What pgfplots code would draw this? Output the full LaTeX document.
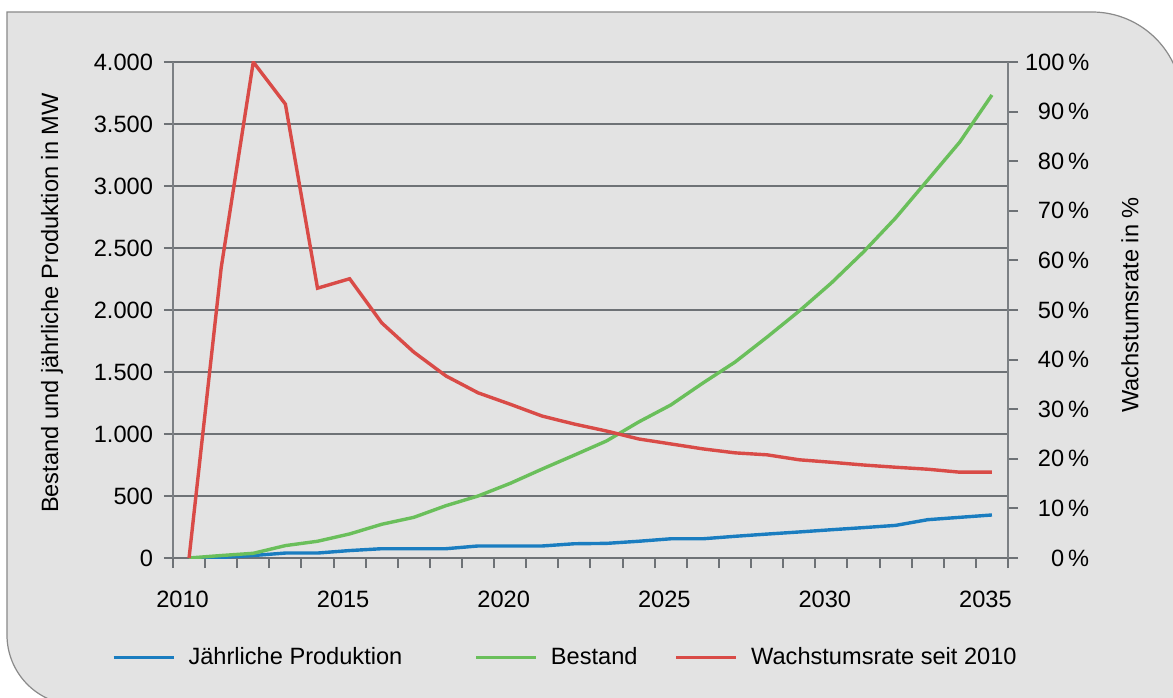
\documentclass[border=0pt]{standalone}
\usepackage{pgfplots}
\pgfplotsset{compat=1.18}
\usepackage{fontspec}
\setmainfont{Liberation Sans}
\definecolor{bg}{RGB}{227,227,227}
\definecolor{framec}{RGB}{138,138,138}
\definecolor{gridc}{RGB}{110,114,118}
\definecolor{axc}{RGB}{124,128,132}
\definecolor{cblue}{RGB}{26,125,192}
\definecolor{cgreen}{RGB}{106,191,91}
\definecolor{cred}{RGB}{217,75,71}
\pgfplotsset{
  common/.style={
    width=417.5pt, height=248pt, scale only axis,
    xmin=-0.5, xmax=25.5,
    font=\fontsize{11.8}{14}\selectfont,
    axis line style={-},
    tick align=outside,
  }
}
\begin{document}
\begin{tikzpicture}
\fill[bg,draw=framec,line width=0.6pt] (-83pt,273pt) -- (459.5pt,273pt) arc[start angle=90,end angle=0,radius=45pt] -- (504.5pt,-73.5pt) -- (-48pt,-73.5pt) arc[start angle=270,end angle=180,radius=35pt] -- cycle;
\begin{axis}[common,
  ymin=0, ymax=4000,
  axis x line*=bottom, axis y line*=left,
  y axis line style={draw=axc, line width=1pt},
  x axis line style={draw=gridc, line width=1pt},
  xtick={0,5,...,25}, xticklabels={2010,2015,2020,2025,2030,2035},
  minor xtick={-0.5,0.5,...,25.5},
  ytick={0,500,...,4000}, yticklabels={0,500,1.000,1.500,2.000,2.500,3.000,3.500,4.000},
  major tick length=4.5pt, minor tick length=5pt,
  major x tick style={draw=none},
  every tick/.style={draw=gridc, line width=1pt},
  ymajorgrids, grid style={draw=gridc, line width=0.9pt},
  xticklabel style={xshift=-3.25pt, yshift=-8.6pt},
  yticklabel style={xshift=-2pt},
  ylabel={Bestand und jährliche Produktion in MW},
  every axis y label/.style={at={(axis description cs:-0.1449,0.514)}, rotate=90, anchor=center},
]
\addplot[cblue, line width=1.7pt] coordinates {
(0,0) (1,5) (2,20) (3,40) (4,40) (5,60) (6,75) (7,75) (8,75) (9,97) (10,97) (11,97) (12,115) (13,118) (14,135) (15,155) (16,155) (17,175) (18,193) (19,210) (20,228) (21,245) (22,263) (23,309) (24,328) (25,347)
};
\addplot[cgreen, line width=1.7pt] coordinates {
(0,0) (1,20) (2,38) (3,100) (4,135) (5,194) (6,272) (7,328) (8,422) (9,500) (10,602) (11,718) (12,830) (13,944) (14,1097) (15,1234) (16,1411) (17,1580) (18,1782) (19,1992) (20,2218) (21,2468) (22,2742) (23,3048) (24,3355) (25,3734)
};
\end{axis}
\begin{axis}[common,
  ymin=0, ymax=100,
  axis x line=none, axis y line*=right,
  y axis line style={draw=axc, line width=1pt},
  ytick={0,10,...,100},
  yticklabels={0\,\%,10\,\%,20\,\%,30\,\%,40\,\%,50\,\%,60\,\%,70\,\%,80\,\%,90\,\%,100\,\%},
  yticklabel style={text width=32pt, align=right},
  major tick length=5pt,
  every tick/.style={draw=gridc, line width=1pt},
  ylabel={Wachstumsrate in \%},
  every axis y label/.style={at={(axis description cs:1.146,0.51)}, rotate=90, anchor=center},
  legend columns=3,
  legend style={draw=none, fill=none, at={(axis description cs:0.471,-0.2)}, anchor=center,
    /tikz/every odd column/.append style={column sep=4.6pt},
    /tikz/every even column/.append style={column sep=16.5pt}},
  legend image code/.code={\draw[#1] (0pt,0pt) -- (30pt,0pt);},
]
\addlegendimage{cblue, line width=1.7pt}
\addlegendentry{Jährliche Produktion\kern17.5pt}
\addlegendimage{cgreen, line width=1.7pt}
\addlegendentry{Bestand}
\addplot[cred, line width=1.7pt] coordinates {
(0,0) (1,58.5) (2,100) (3,91.5) (4,54.4) (5,56.3) (6,47.4) (7,41.5) (8,36.7) (9,33.3) (10,31) (11,28.6) (12,27) (13,25.6) (14,24) (15,23) (16,22) (17,21.2) (18,20.8) (19,19.8) (20,19.3) (21,18.75) (22,18.3) (23,17.9) (24,17.3) (25,17.3)
};
\addlegendentry{Wachstumsrate seit 2010}
\end{axis}
\pgfresetboundingbox
\useasboundingbox (-86.5pt,-69.5pt) rectangle (500pt,279pt);
\end{tikzpicture}
\end{document}
